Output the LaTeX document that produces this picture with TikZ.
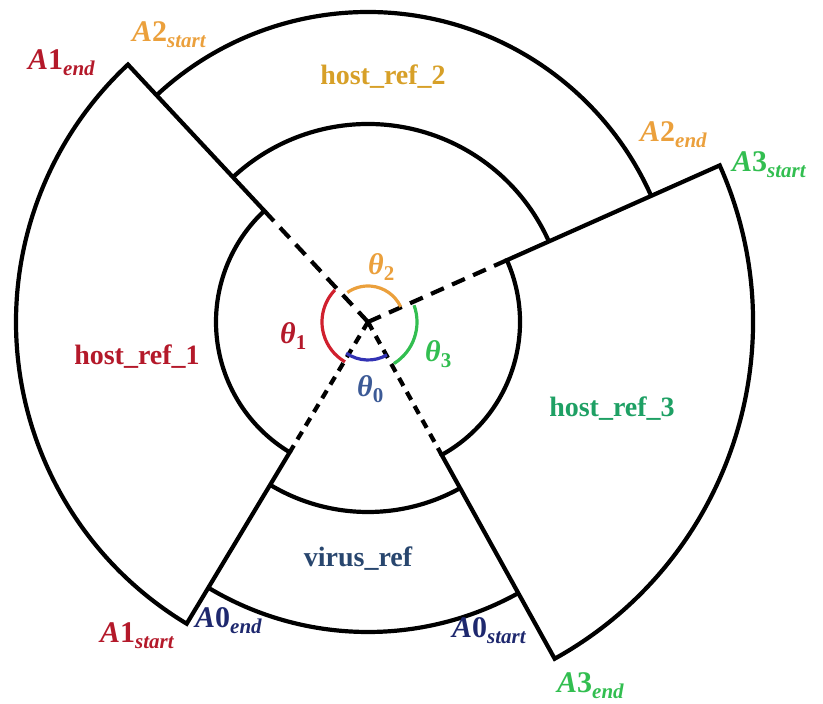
\documentclass[tikz,border=0pt]{standalone}
\usepackage{fontspec}
\setmainfont{Liberation Serif}
\usetikzlibrary{calc}
\definecolor{cRed}{HTML}{B4192A}
\definecolor{cRedArc}{HTML}{D0202E}
\definecolor{cOrange}{HTML}{EBA03C}
\definecolor{cGold}{HTML}{D7A028}
\definecolor{cGreen}{HTML}{32BE50}
\definecolor{cGreenTxt}{HTML}{1EA064}
\definecolor{cBlue}{HTML}{3C5A96}
\definecolor{cBlueArc}{HTML}{3232B4}
\definecolor{cVirus}{HTML}{28466E}
\definecolor{cNavy}{HTML}{1E286E}
\newcommand{\lbl}[2]{#1\raisebox{-6pt}{\fontsize{21}{23}\selectfont #2}}
\tikzset{
  wall/.style={line width=4.2pt, line join=miter},
  longdash/.style={line width=4.2pt, dash pattern=on 14pt off 9pt},
  shortdash/.style={line width=4.2pt, dash pattern=on 9pt off 7pt},
  anglearc/.style={line width=3.2pt},
  lab/.style={font=\fontsize{28}{30}\selectfont\bfseries, inner sep=0pt, anchor=base},
  alab/.style={font=\fontsize{30}{32}\selectfont\bfseries\itshape, inner sep=0pt, anchor=base west},
  tlab/.style={font=\fontsize{30}{32}\selectfont\bfseries\itshape, inner sep=0pt, anchor=base west}
}
\begin{document}
\begin{tikzpicture}[x=1pt,y=1pt]
\useasboundingbox (0,0) rectangle (823,704);
\coordinate (C) at (368,382);
% host_ref_1 sector
\draw[wall] ($(C)+(133:152)$) coordinate (h1a) -- ($(C)+(133:352)$) coordinate (h1b)
  arc[start angle=133,end angle=239,radius=352pt] coordinate (h1c)
  -- ($(C)+(239:152)$) coordinate (h1d)
  arc[start angle=239,end angle=133,radius=152pt] -- cycle;
% host_ref_3 sector
\draw[wall] ($(C)+(24:152)$) coordinate (h3a) -- ($(C)+(24:385)$) coordinate (h3b)
  arc[start angle=24,end angle=-61,radius=385pt] coordinate (h3c)
  -- ($(C)+(-61:152)$) coordinate (h3d)
  arc[start angle=-61,end angle=24,radius=152pt] -- cycle;
% host_ref_2 band
\draw[wall] ($(C)+(133:310)$) arc[start angle=133,end angle=24,radius=310pt];
\draw[wall] ($(C)+(133:198)$) arc[start angle=133,end angle=24,radius=198pt];
% virus_ref band
\draw[wall] ($(C)+(239:310)$) arc[start angle=239,end angle=299,radius=310pt];
\draw[wall] ($(C)+(239:190)$) arc[start angle=239,end angle=299,radius=190pt];
% dashed rays
\draw[longdash] (C) -- (h1a);
\draw[longdash] (C) -- (h3a);
\draw[shortdash] (C) -- (h1d);
\draw[shortdash] (C) -- (h3d);
% angle arcs
\draw[anglearc, cOrange] ($(C)+(25:36)$) arc[start angle=25,end angle=125,radius=36pt];
\draw[anglearc, cRedArc] ($(C)+(136:46)$) arc[start angle=136,end angle=240,radius=46pt];
\draw[anglearc, cGreen] ($(C)+(-58:49)$) arc[start angle=-58,end angle=20,radius=49pt];
\draw[anglearc, cBlueArc] ($(C)+(235:38)$) arc[start angle=235,end angle=300,radius=38pt];
% region labels
\node[lab, text=cGold] (h2lab) at (383,619) {host\_ref\_2};
\node[lab, text=cRed] (h1lab) at (137,339) {host\_ref\_1};
\node[lab, text=cGreenTxt] (h3lab) at (612,287) {host\_ref\_3};
\node[lab, text=cVirus] (vlab) at (358,137) {virus\_ref};
% angle labels
\node[tlab, text=cOrange] (t2) at (368,429) {\lbl{θ}{\upshape 2}};
\node[tlab, text=cRed] (t1) at (280,360) {\lbl{θ}{\upshape 1}};
\node[tlab, text=cGreen] (t3) at (425,342) {\lbl{θ}{\upshape 3}};
\node[tlab, text=cBlue] (t0) at (357,307) {\lbl{θ}{\upshape 0}};
% endpoint labels
\node[alab, text=cRed] (a1e) at (28,634) {\lbl{A{\upshape 1}}{end}};
\node[alab, text=cOrange] (a2s) at (132,662) {\lbl{A{\upshape 2}}{start}};
\node[alab, text=cOrange] (a2e) at (640,562) {\lbl{A{\upshape 2}}{end}};
\node[alab, text=cGreen] (a3s) at (732,532) {\lbl{A{\upshape 3}}{start}};
\node[alab, text=cRed] (a1s) at (100,61) {\lbl{A{\upshape 1}}{start}};
\node[alab, text=cNavy] (a0e) at (195,76) {\lbl{A{\upshape 0}}{end}};
\node[alab, text=cNavy] (a0s) at (452,66) {\lbl{A{\upshape 0}}{start}};
\node[alab, text=cGreen] (a3e) at (557,11) {\lbl{A{\upshape 3}}{end}};
\end{tikzpicture}
\end{document}
